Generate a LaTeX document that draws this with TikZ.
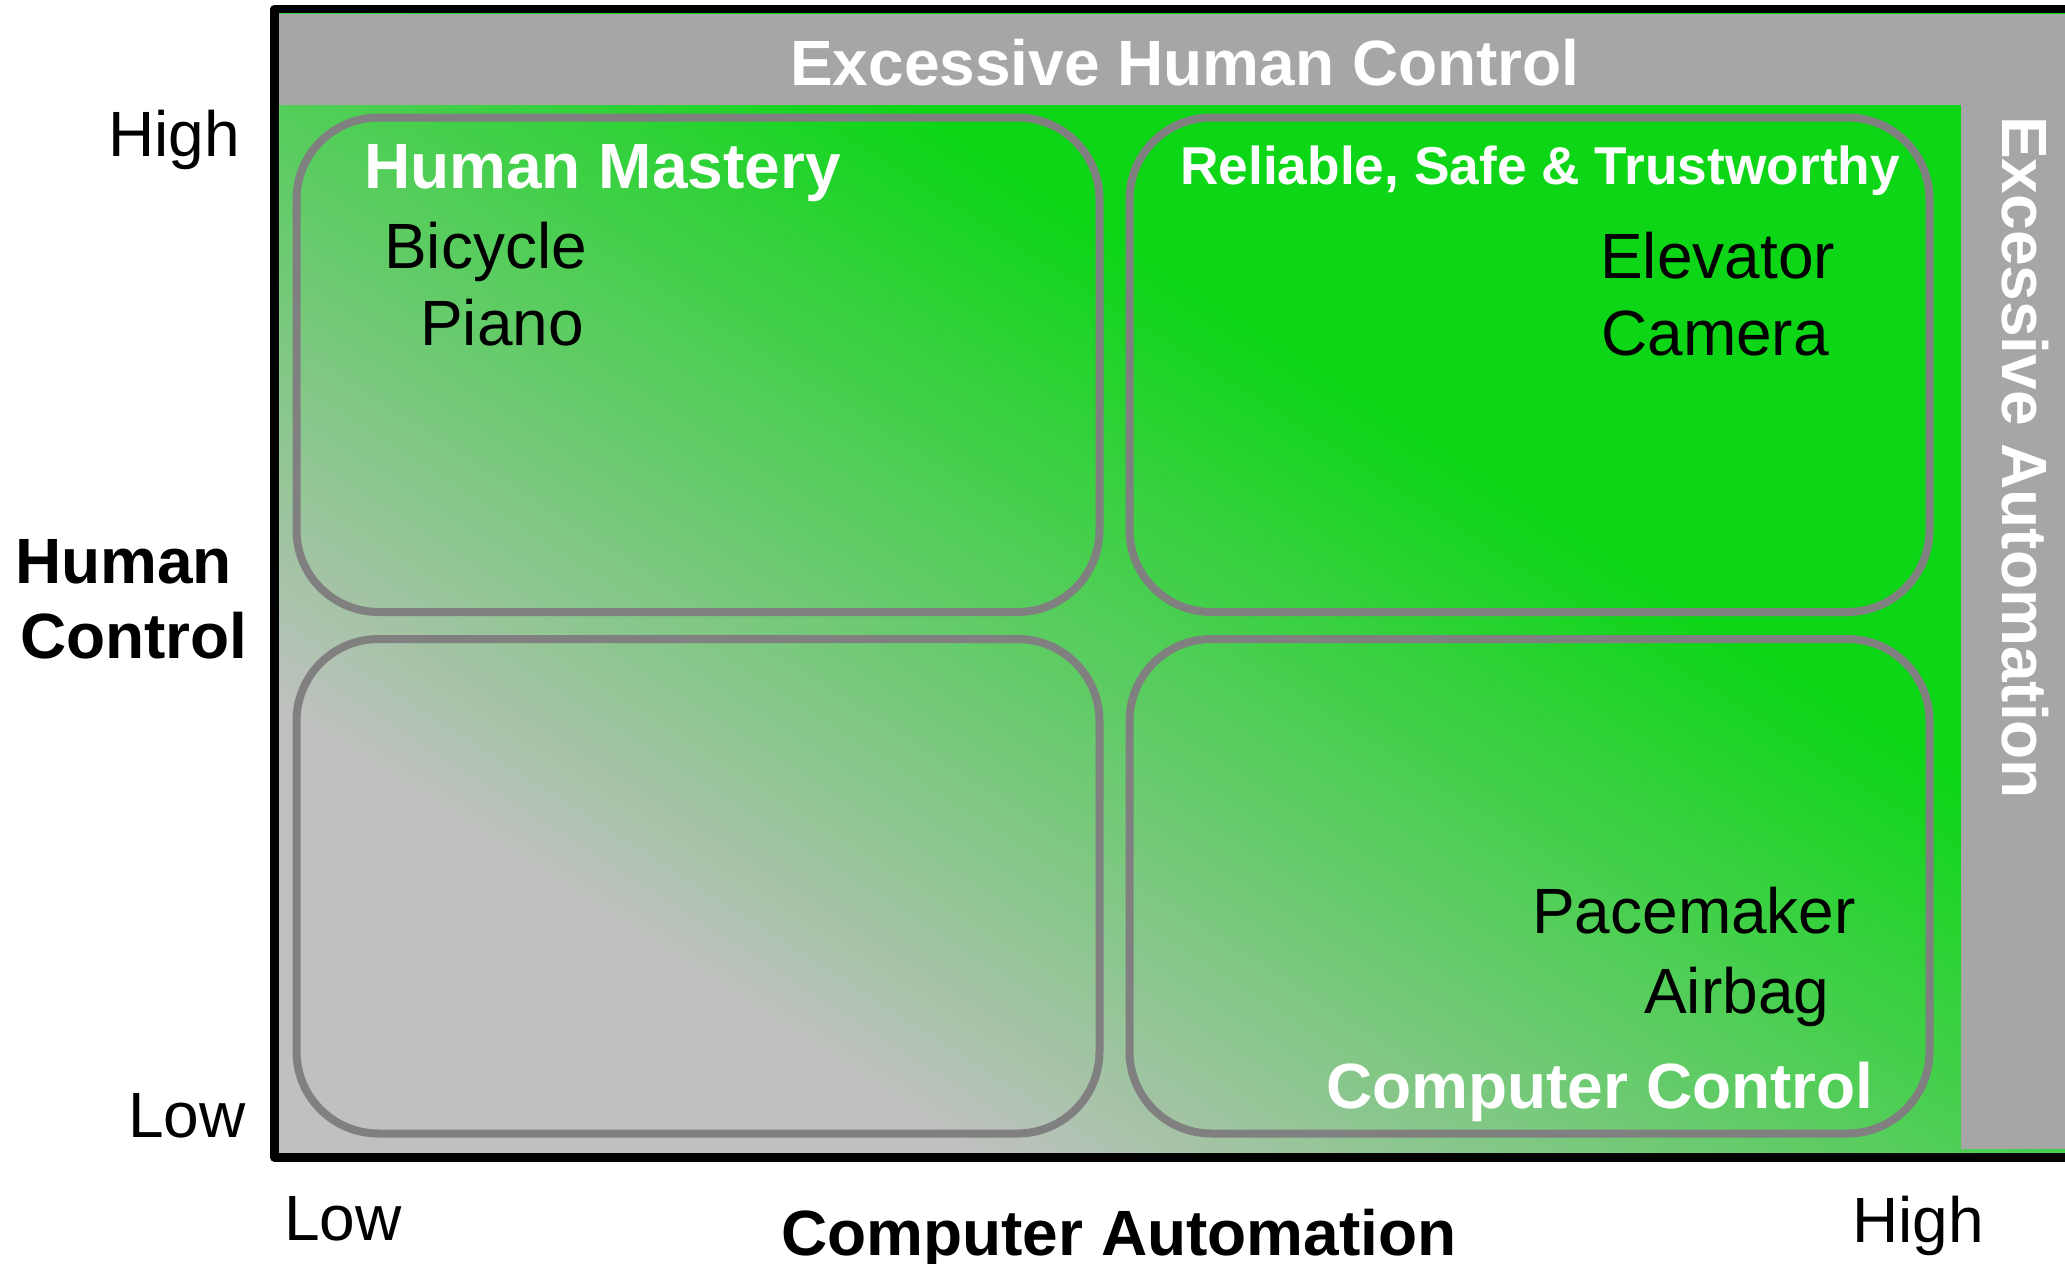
\documentclass[tikz,border=0pt]{standalone}
\usepackage{fontspec}
\setmainfont{Liberation Sans}
\definecolor{sgray}{RGB}{192,192,192}
\definecolor{sgreen}{RGB}{12,214,22}
\definecolor{bandgray}{RGB}{166,166,166}
\definecolor{boxline}{RGB}{128,128,128}
\begin{document}
\begin{tikzpicture}[x=1pt,y=-1pt,
  qbox/.style={draw=boxline, line width=8pt, rounded corners=82pt, inner sep=0pt, minimum height=494.5pt},
  txt/.style={inner sep=0pt, font=\fontsize{64}{76}\selectfont},
  txtb/.style={inner sep=0pt, font=\fontsize{64}{76}\selectfont\bfseries},
  txts/.style={inner sep=0pt, font=\fontsize{53.3}{64}\selectfont\bfseries},
  frameline/.style={line width=8.5pt, draw=black, line join=round}
]
\useasboundingbox (0,0) rectangle (2065,1264);
\clip (0,0) rectangle (2065,1264);
% gradient field: gray (lower left) to green (upper right), isolines parallel to the diagonal
\begin{scope}
  \clip (279,13) rectangle (2065,1153);
  \fill[sgray] (279,13) rectangle (2065,1153);
  \begin{scope}[shift={(279,1153)}, x={(1786pt,0pt)}, y={(0pt,1140pt)}]
    \foreach \i in {0,...,90} {
      \pgfmathsetmacro{\tt}{0.19 + 0.444*\i/90}
      \pgfmathsetmacro{\ff}{100*\i/90}
      \fill[sgreen!\ff!sgray] ({2*\tt+1},-1) -- (3,-1) -- (3,3) -- ({2*\tt-3},3) -- cycle;
    }
  \end{scope}
\end{scope}
% excessive bands
\fill[bandgray] (279,14) rectangle (2065,105);
\fill[bandgray] (1961,105) rectangle (2065,1149);
% outer frame
\coordinate (ftr) at (2080,9);
\coordinate (ftl) at (274.5,9);
\coordinate (fbl) at (274.5,1157.5);
\coordinate (fbr) at (2080,1157.5);
\draw[frameline] (ftr) -- (ftl) -- (fbl) -- (fbr);
% quadrant boxes
\node[qbox, minimum width=803pt] (tl) at (698,364.75) {};
\node[qbox, minimum width=800pt] (tr) at (1529.5,364.75) {};
\node[qbox, minimum width=803pt] (bl) at (698,886.25) {};
\node[qbox, minimum width=800pt] (br) at (1529.5,886.25) {};
% band labels
\node[txtb, text=white, anchor=base] (ehc) at (1185,85) {Excessive Human Control};
\node[txtb, text=white, anchor=base west, rotate=-90] (ea) at (2002,116) {Excessive Automation};
% quadrant titles
\node[txtb, text=white, anchor=base west] (hm) at (364,188) {Human Mastery};
\node[txts, text=white, anchor=base west] (rst) at (1180,184) {Reliable, Safe \& Trustworthy};
\node[txtb, text=white, anchor=base west] (cc) at (1326,1108) {Computer Control};
% examples
\node[txt, anchor=base west] (bicycle) at (384,268) {Bicycle};
\node[txt, anchor=base west] (piano) at (420,345) {Piano};
\node[txt, anchor=base west] (elevator) at (1600,278) {Elevator};
\node[txt, anchor=base west] (camera) at (1601,355) {Camera};
\node[txt, anchor=base west] (pacemaker) at (1532,933) {Pacemaker};
\node[txt, anchor=base west] (airbag) at (1644,1013) {Airbag};
% axis labels
\node[txt, anchor=base east] (yhigh) at (240,156) {High};
\node[txt, anchor=base east] (ylow) at (246,1137) {Low};
\node[txtb, anchor=base west] (hc1) at (15,583) {Human};
\node[txtb, anchor=base west] (hc2) at (20,658) {Control};
\node[txt, anchor=base west] (xlow) at (284,1240) {Low};
\node[txt, anchor=base west] (xhigh) at (1852,1242) {High};
\node[txtb, anchor=base west] (ca) at (781,1255) {Computer Automation};
\end{tikzpicture}
\end{document}
